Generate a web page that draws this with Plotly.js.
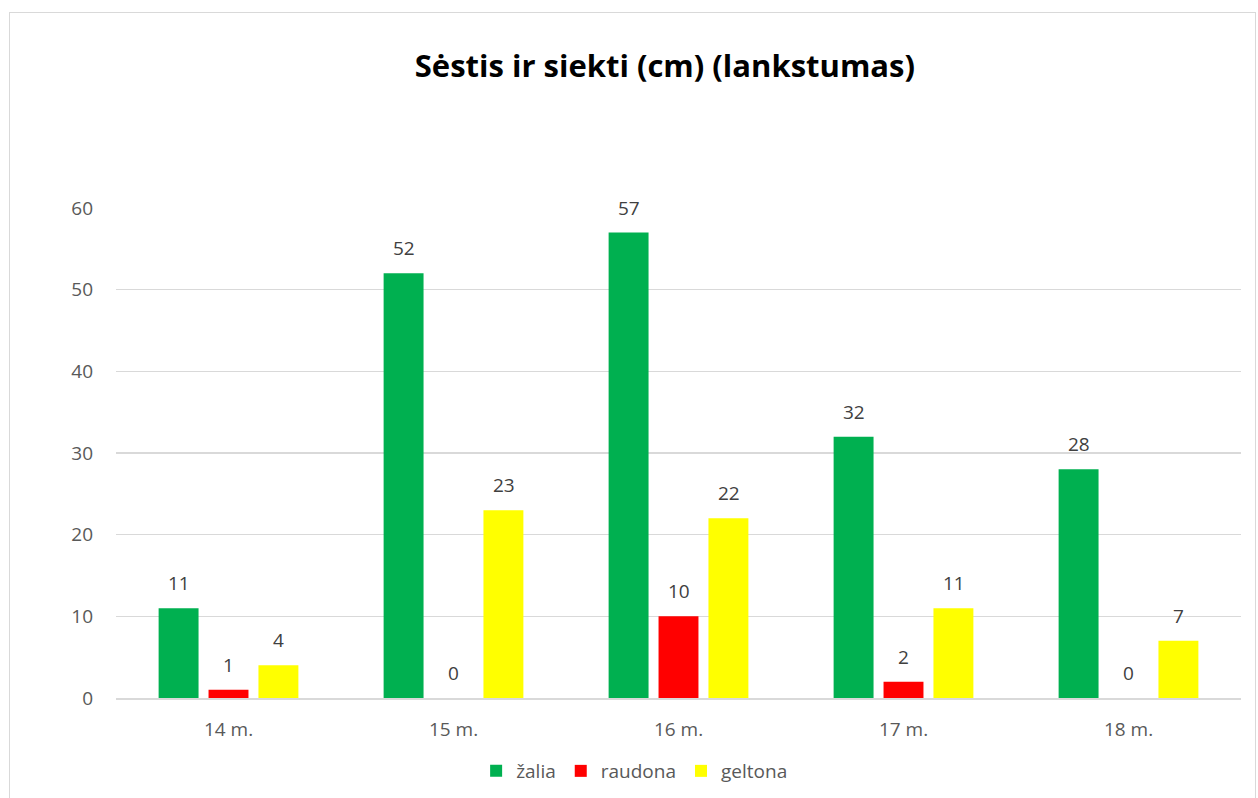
<!DOCTYPE html>
<html><head><meta charset="utf-8">
<script src="https://cdn.plot.ly/plotly-3.0.1.min.js"></script>
<style>
html,body{margin:0;padding:0;background:#fff;overflow:hidden;}
#frame{position:absolute;left:9px;top:12px;width:1245px;height:800px;border:1.5px solid #d9d9d9;}
#chart{width:1245px;height:800px;}
</style></head><body>
<div id="frame"><div id="chart"></div></div>
<script>
const categories = ["14 m.", "15 m.", "16 m.", "17 m.", "18 m."];
const seriesNames = ["žalia", "raudona", "geltona"];
const zalia = [11, 52, 57, 32, 28];
const raudona = [1, 0, 10, 2, 0];
const geltona = [4, 23, 22, 11, 7];
const colors = ["#00B050", "#FF0000", "#FFFF00"];
const yTicks = [0, 10, 20, 30, 40, 50, 60];

const FONT = "'Open Sans', Lato, sans-serif";
const allSeries = [zalia, raudona, geltona];
const traces = allSeries.map((vals, i) => ({
  type: 'bar', name: seriesNames[i], x: categories, y: vals,
  marker: {color: colors[i], line: {width: 0}},
  hoverinfo: 'skip'
}));
const annotations = [];
allSeries.forEach((vals, i) => {
  vals.forEach((v, j) => {
    annotations.push({x: categories[j], y: v, xref: 'x', yref: 'y', text: String(v),
      showarrow: false, xshift: (i - 1) * 50, yshift: 25,
      font: {family: FONT, size: 19, color: '#404040'}});
  });
});
const layout = {
  width: 1245, height: 800,
  margin: {l: 106, r: 14, t: 195, b: 115},
  paper_bgcolor: '#fff', plot_bgcolor: '#fff',
  font: {family: FONT},
  title: {text: '<b>Sėstis ir siekti (cm) (lankstumas)</b>', x: 0.526, xref: 'container', y: 0.933, yref: 'container', yanchor: 'middle', xanchor: 'center',
    font: {family: FONT, size: 31, color: '#000'}},
  barmode: 'group', bargap: 0.3345, bargroupgap: 0.2,
  xaxis: {type: 'category', showgrid: false, showline: true, linecolor: '#d9d9d9', linewidth: 1.5, ticks: '', ticklabelstandoff: 14,
    tickfont: {family: FONT, size: 19, color: '#595959'}},
  yaxis: {range: [0, 60], tickvals: yTicks, showgrid: true, gridcolor: '#d9d9d9', gridwidth: 1.5, zeroline: false, showline: false, ticks: '', ticklabelstandoff: 22,
    tickfont: {family: FONT, size: 19, color: '#595959'}},
  legend: {orientation: 'h', x: 0.461, xanchor: 'center', y: -0.149, yanchor: 'middle',
    font: {family: FONT, size: 19, color: '#595959'}, itemwidth: 30, tracegroupgap: 0},
  annotations: annotations,
  showlegend: true
};
Plotly.newPlot('chart', traces, layout, {displayModeBar: false, staticPlot: true});
</script>
</body></html>
